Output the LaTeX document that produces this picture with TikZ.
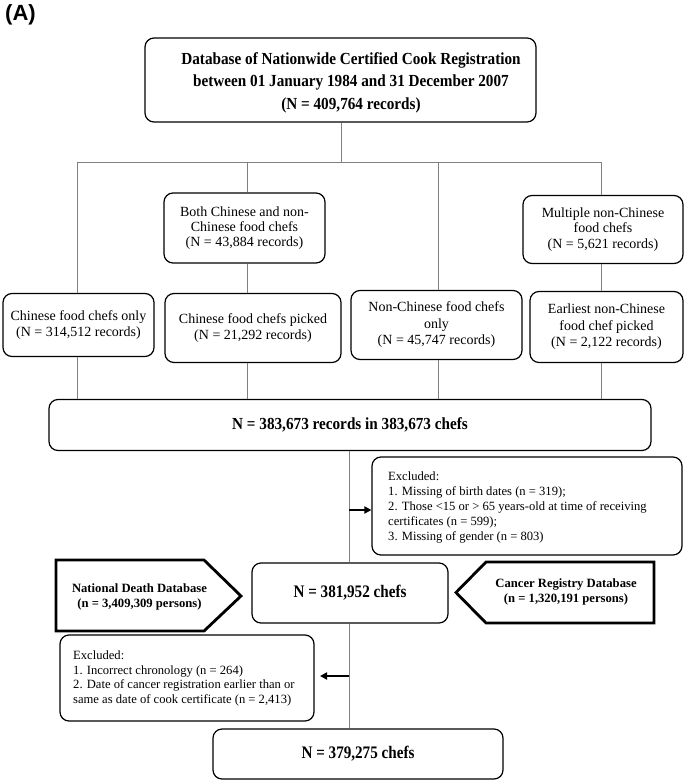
\documentclass[tikz,border=0pt]{standalone}
\usepackage{fontspec}
\setmainfont{Liberation Serif}
\newfontfamily\labelfont{Liberation Sans}
\newfontfamily\condA{Liberation Serif}[FakeStretch=0.9]
\newfontfamily\condB{Liberation Serif}[FakeStretch=0.86]
\usetikzlibrary{arrows.meta}
\begin{document}
\begin{tikzpicture}[x=1pt,y=-1pt,
  box/.style={draw=black, line width=1.2pt, rounded corners=9pt, inner sep=0pt, align=center},
  conn/.style={draw=black!50, line width=0.9pt},
  exarrow/.style={draw=black, line width=2pt, -{Triangle[length=7pt,width=7pt]}},
  headtxt/.style={font=\condA\fontsize{16.9}{22.5}\selectfont\bfseries, align=center, inner sep=0pt},
  rowtxt/.style={font=\fontsize{14}{16.5}\selectfont},
  rowtxtb/.style={font=\fontsize{14}{15.2}\selectfont},
  extxt/.style={font=\fontsize{12.6}{15}\selectfont, align=left, inner sep=0pt, anchor=west},
  dbtxt/.style={font=\fontsize{12.65}{15}\selectfont\bfseries, align=center, inner sep=0pt},
  dbshape/.style={draw=black, line width=2.8pt, line join=miter},
  bigtxt/.style={font=\condA\fontsize{16.9}{18}\selectfont\bfseries},
  hugetxt/.style={font=\condB\fontsize{17.6}{20}\selectfont\bfseries}
]
\useasboundingbox (0,0) rectangle (685,781);

% panel label
\node[font=\labelfont\bfseries\fontsize{22}{24}\selectfont, inner sep=0pt] (lab) at (20.5,14.5) {(A)};

% top box
\node[box, minimum width=391pt, minimum height=84pt] (top) at (340.5,80) {};
\node[headtxt] (toptxt) at (351,82.5) {Database of Nationwide Certified Cook Registration\\between 01 January 1984 and 31 December 2007\\(N = 409,764 records)};

% middle row
\node[box, rowtxtb, minimum width=161pt, minimum height=70pt] (both) at (244.5,228) {Both Chinese and non-\\Chinese food chefs\\(N = 43,884 records)};
\node[box, rowtxtb, minimum width=160pt, minimum height=68pt] (multi) at (603,229.5) {Multiple non-Chinese\\food chefs\\(N = 5,621 records)};

% lower row
\node[box, rowtxt, minimum width=151pt, minimum height=63pt] (only) at (78.5,325) {Chinese food chefs only\\(N = 314,512 records)};
\node[box, rowtxt, minimum width=176pt, minimum height=69pt] (picked) at (253,328) {Chinese food chefs picked\\(N = 21,292 records)};
\node[box, rowtxt, minimum width=171pt, minimum height=69pt] (nonc) at (436.5,325) {Non-Chinese food chefs\\only\\(N = 45,747 records)};
\node[box, rowtxt, minimum width=153pt, minimum height=71pt] (earl) at (606.5,327) {Earliest non-Chinese\\food chef picked\\(N = 2,122 records)};

% merged box
\node[box, bigtxt, minimum width=602pt, minimum height=51pt] (big) at (350,425) {N = 383,673 records in 383,673 chefs};

% exclusion 1
\node[box, minimum width=310pt, minimum height=98pt] (ex1) at (527,506) {};
\node[extxt] (ex1txt) at (388,507) {Excluded:\\1. Missing of birth dates (n = 319);\\2. Those <15 or > 65 years-old at time of receiving\\certificates (n = 599);\\3. Missing of gender (n = 803)};

% 381,952 box
\node[box, hugetxt, minimum width=196pt, minimum height=60pt] (n381) at (350,593) {N = 381,952 chefs};

% database shapes
\draw[dbshape] (56,560) -- (204,560) -- (241,596) -- (204,631) -- (56,631) -- cycle;
\node[dbtxt] (death) at (139.5,596.5) {National Death Database\\(n = 3,409,309 persons)};
\draw[dbshape] (456,592.5) -- (486,562) -- (654,562) -- (654,623) -- (486,623) -- cycle;
\node[dbtxt] (cancer) at (566,591.5) {Cancer Registry Database\\(n = 1,320,191 persons)};

% exclusion 2
\node[box, minimum width=254pt, minimum height=86pt] (ex2) at (187,678) {};
\node[extxt, font=\fontsize{12.6}{14.5}\selectfont] (ex2txt) at (73,678.5) {Excluded:\\1. Incorrect chronology (n = 264)\\2. Date of cancer registration earlier than or\\same as date of cook certificate (n = 2,413)};

% final box
\node[box, hugetxt, minimum width=290pt, minimum height=50pt] (final) at (358,754) {N = 379,275 chefs};

% connectors
\coordinate (bus) at (341,162);
\coordinate (b1) at (77,162);
\coordinate (b2) at (247.5,162);
\coordinate (b3) at (438,162);
\coordinate (b4) at (601,162);
\draw[conn] (top.south -| bus) -- (bus);
\draw[conn] (b1) -- (b4);
\draw[conn] (b1) -- (only.north -| b1);
\draw[conn] (b2) -- (both.north -| b2);
\draw[conn] (b3) -- (nonc.north -| b3);
\draw[conn] (b4) -- (multi.north -| b4);
\draw[conn] (both.south -| b2) -- (picked.north -| b2);
\draw[conn] (multi.south -| b4) -- (earl.north -| b4);
\draw[conn] (only.south -| b1) -- (big.north -| b1);
\draw[conn] (picked.south -| b2) -- (big.north -| b2);
\draw[conn] (nonc.south -| b3) -- (big.north -| b3);
\draw[conn] (earl.south -| b4) -- (big.north -| b4);

\coordinate (m) at (349,450);
\draw[conn] (big.south -| m) -- (n381.north -| m);
\draw[conn] (n381.south -| m) -- (final.north -| m);
\coordinate (a1) at (349,510);
\draw[exarrow] (a1) -- (ex1.west |- a1);
\coordinate (a2) at (349,676);
\coordinate (a2e) at (320,676);
\draw[exarrow] (a2) -- (a2e);
\end{tikzpicture}
\end{document}
